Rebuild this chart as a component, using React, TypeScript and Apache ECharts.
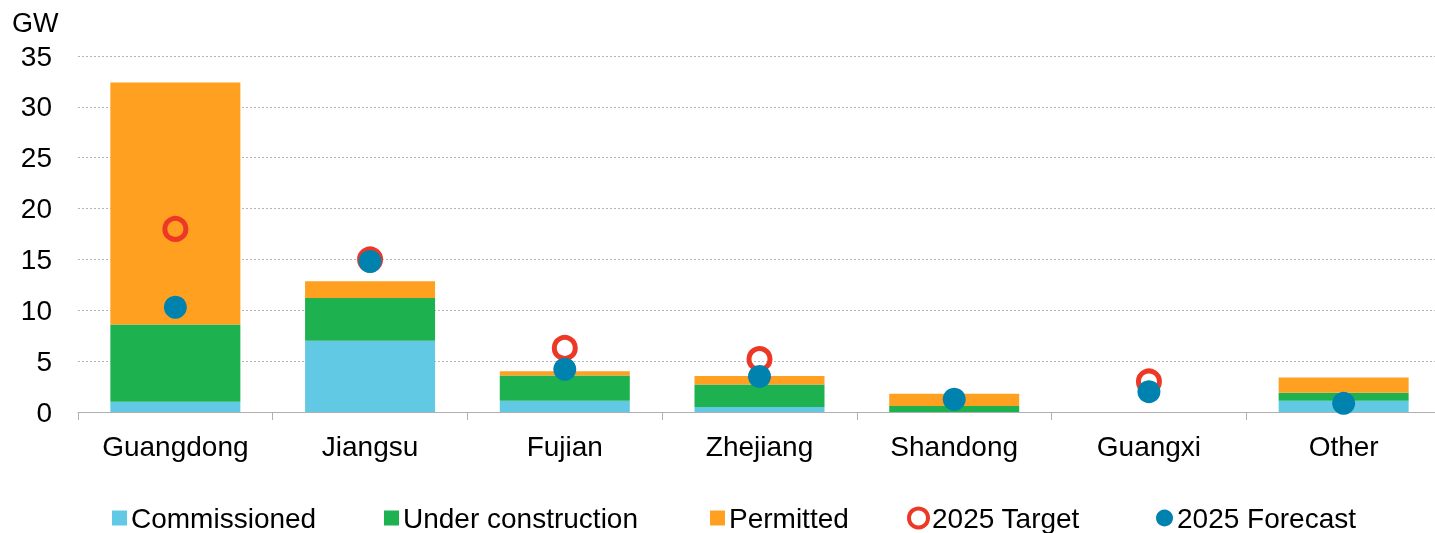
import React, { useEffect, useRef } from "react";
import * as echarts from "echarts";

const categories = ["Guangdong", "Jiangsu", "Fujian", "Zhejiang", "Shandong", "Guangxi", "Other"];
const commissioned = [1.0, 7.0, 1.1, 0.5, 0, 0, 1.1];
const underConstruction = [7.6, 4.2, 2.5, 2.2, 0.6, 0, 0.8];
const permitted = [23.8, 1.65, 0.4, 0.85, 1.2, 0, 1.5];
const target2025: (number | null)[] = [18.0, 15.0, 6.3, 5.2, null, 3.0, null];
const forecast2025 = [10.3, 14.8, 4.2, 3.5, 1.25, 2.0, 0.85];
const yTicks = [0, 5, 10, 15, 20, 25, 30, 35];

const FONT = "'Liberation Sans', Arial, sans-serif";
const C_COMM = "#62C9E5";
const C_UC = "#1DB24F";
const C_PERM = "#FFA020";
const C_TGT = "#EE3826";
const C_FC = "#0082AE";

export default function App() {
  const ref = useRef<HTMLDivElement>(null);
  useEffect(() => {
    if (!ref.current) return;
    const chart = echarts.init(ref.current, null, { renderer: "svg" });
    const textStyle = { fontFamily: FONT, fontSize: 28, color: "#000" };
    const legendBase = {
      top: 504,
      itemGap: 0,
      padding: 0,
      textStyle: { ...textStyle, lineHeight: 28, padding: [0, 0, 0, -1] },
      selectedMode: false,
    };
    chart.setOption({
      animation: false,
      textStyle: { fontFamily: FONT },
      grid: { left: 78, top: 56, right: 0, bottom: 121 },
      graphic: [
        { type: "text", left: 12, top: 9, style: { text: "GW", fill: "#000", font: `27px ${FONT}` } },
      ],
      legend: [
        { ...legendBase, left: 112, data: [{ name: "Commissioned", icon: "rect" }], itemWidth: 15, itemHeight: 15 },
        { ...legendBase, left: 384, data: [{ name: "Under construction", icon: "rect" }], itemWidth: 15, itemHeight: 15 },
        { ...legendBase, left: 710, data: [{ name: "Permitted", icon: "rect" }], itemWidth: 15, itemHeight: 15 },
        {
          ...legendBase,
          left: 907,
          data: [{ name: "2025 Target", icon: "circle", itemStyle: { color: "#fff", borderColor: C_TGT, borderWidth: 4 } }],
          itemWidth: 19,
          itemHeight: 19,
        },
        { ...legendBase, left: 1156, data: [{ name: "2025 Forecast", icon: "circle" }], itemWidth: 17, itemHeight: 17 },
      ],
      xAxis: {
        type: "category",
        data: categories,
        boundaryGap: true,
        axisLine: { show: true, lineStyle: { color: "#AFAFAF", width: 1 } },
        axisTick: { show: true, length: 8, lineStyle: { color: "#AFAFAF" } },
        axisLabel: { ...textStyle, margin: 20 },
        splitLine: { show: false },
      },
      yAxis: {
        type: "value",
        min: yTicks[0],
        max: yTicks[yTicks.length - 1],
        interval: 5,
        axisLine: { show: false },
        axisTick: { show: false },
        axisLabel: { ...textStyle, margin: 26 },
        splitLine: { show: true, lineStyle: { color: "#B4B4B4", type: [2, 2], width: 1 } },
      },
      series: [
        { name: "Commissioned", type: "bar", stack: "s", data: commissioned, barWidth: 130, itemStyle: { color: C_COMM } },
        { name: "Under construction", type: "bar", stack: "s", data: underConstruction, barWidth: 130, itemStyle: { color: C_UC } },
        { name: "Permitted", type: "bar", stack: "s", data: permitted, barWidth: 130, itemStyle: { color: C_PERM } },
        {
          name: "2025 Target",
          type: "scatter",
          data: target2025,
          symbol: "circle",
          symbolSize: 21,
          itemStyle: { color: "transparent", borderColor: C_TGT, borderWidth: 5, opacity: 1 },
          z: 3,
        },
        {
          name: "2025 Forecast",
          type: "scatter",
          data: forecast2025,
          symbol: "circle",
          symbolSize: 23,
          itemStyle: { color: C_FC, opacity: 1 },
          z: 4,
        },
      ],
    });
    return () => chart.dispose();
  }, []);
  return <div ref={ref} style={{ position: "fixed", left: 0, top: 0, width: 1441, height: 533 }} />;
}
